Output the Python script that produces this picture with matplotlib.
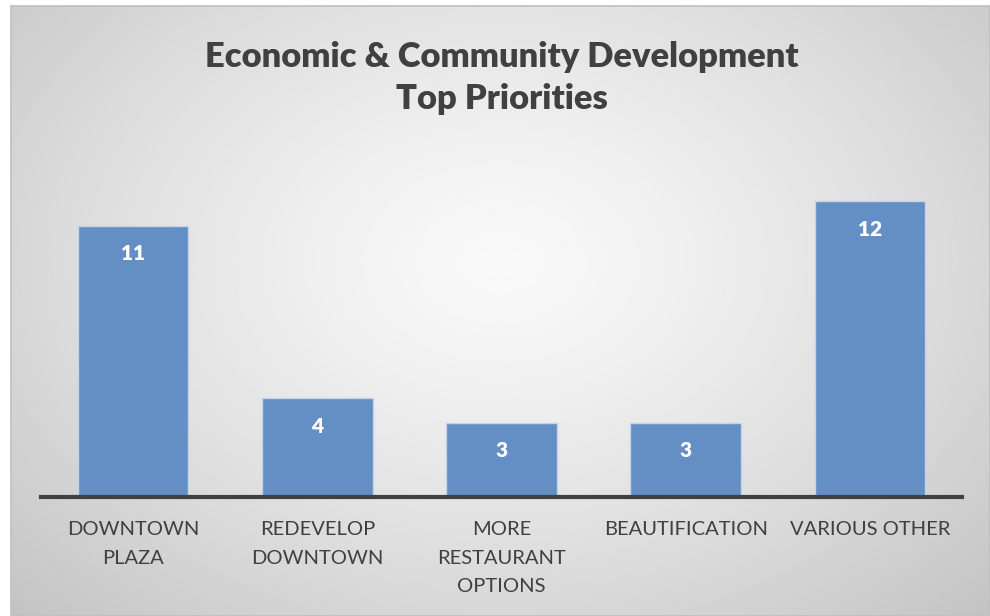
import numpy as np
import matplotlib.pyplot as plt
from matplotlib.colors import LinearSegmentedColormap

# data
categories = ['DOWNTOWN\nPLAZA', 'REDEVELOP\nDOWNTOWN', 'MORE\nRESTAURANT\nOPTIONS',
              'BEAUTIFICATION', 'VARIOUS OTHER']
values = [11, 4, 3, 3, 12]
title = 'Economic & Community Development\nTop Priorities'

plt.rcParams['font.family'] = ['Lato', 'DejaVu Sans']

W, H = 990, 616
fig = plt.figure(figsize=(W / 100, H / 100), dpi=100)
fig.patch.set_facecolor('white')

# background panel with radial gradient
bg = fig.add_axes([11 / W, 0, (W - 11) / W, (H - 6) / H])
yy, xx = np.mgrid[0:1:300j, 0:1:480j]
r = np.sqrt(((xx - 0.5) / 0.5) ** 2 + ((yy - 0.42) / 0.58) ** 2) / np.sqrt(2)
shade = 0.975 - 0.21 * np.clip(r, 0, 1) ** 1.3
cmap = LinearSegmentedColormap.from_list('g', ['black', 'white'])
bg.imshow(shade, cmap=cmap, vmin=0, vmax=1, aspect='auto', extent=[0, 1, 0, 1],
          interpolation='bilinear')
bg.set_xticks([])
bg.set_yticks([])
for s in bg.spines.values():
    s.set_color('#bfbfbf')
    s.set_linewidth(1.2)

ax = fig.add_axes([41 / W, 119 / H, (962 - 41) / W, (497 - 152) / H])
ax.patch.set_alpha(0)
x = np.arange(len(values))
bars = ax.bar(x, values, width=0.6, color='#648fc4', edgecolor='#c5d3e8', linewidth=1)
ax.set_xlim(-0.5, len(values) - 0.5)
ax.set_ylim(0, 14)
ax.set_yticks([])
ax.set_xticks(x)
ax.set_xticklabels(categories, fontsize=14.5, color='#404040', linespacing=1.85)
ax.tick_params(axis='x', length=0, pad=17)
for side in ['left', 'right', 'top']:
    ax.spines[side].set_visible(False)
ax.spines['bottom'].set_color('#404040')
ax.spines['bottom'].set_linewidth(3)

for b, v in zip(bars, values):
    ax.annotate(str(v), (b.get_x() + b.get_width() / 2, v), xytext=(0, -20),
                textcoords='offset points', ha='center', va='center',
                fontsize=15, fontweight='heavy', color='white')

fig.text(502 / W, 1 - 78 / H, title, ha='center', va='center', fontsize=24.8,
         fontweight='heavy', color='#404040', linespacing=1.35)

fig.savefig('out.png', dpi=100)
